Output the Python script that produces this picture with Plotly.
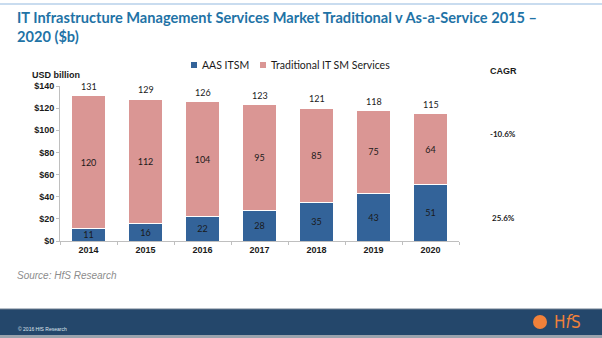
import plotly.graph_objects as go

# Market data, $ billions
years = ["2014", "2015", "2016", "2017", "2018", "2019", "2020"]
aas_itsm = [11, 16, 22, 28, 35, 43, 51]
traditional = [120, 112, 104, 95, 85, 75, 64]
totals = [131, 129, 126, 123, 121, 118, 115]
series_names = ["AAS ITSM", "Traditional IT SM Services"]
cagr = ["-10.6%", "25.6%"]
y_ticks = [0, 20, 40, 60, 80, 100, 120, 140]
y_tick_text = ["$0", "$20", "$40", "$60", "$80", "$100", "$120", "$140"]

BLUE = "#336399"
PINK = "#da9694"
TITLE = "#1f73a6"
NAVY = "#24476b"
ORANGE = "#f0813a"

W, H = 602, 338
PL, PR, PT, PB = 60, 459, 86, 241  # plot area in pixels


def px(x):
    return (x - PL) / (PR - PL)


def py(y):
    return (PB - y) / (PB - PT)


fig = go.Figure()
fig.add_trace(go.Bar(
    x=years, y=aas_itsm, name=series_names[0],
    marker=dict(color=BLUE, line=dict(color="white", width=1)),
    text=aas_itsm, textposition="inside", insidetextanchor="middle",
    textangle=0,
    textfont=dict(size=9, color="#1a1a1a", family="Lato"),
))
fig.add_trace(go.Bar(
    x=years, y=traditional, name=series_names[1],
    marker=dict(color=PINK, line=dict(color="white", width=1)),
    text=traditional, textposition="inside", insidetextanchor="middle",
    textangle=0,
    textfont=dict(size=9, color="#1a1a1a", family="Lato"),
))

annotations = []
# totals above each stack (category index positions)
for i, t in enumerate(totals):
    annotations.append(dict(x=i, y=t, xref="x", yref="y", text=str(t),
                            showarrow=False, yshift=9,
                            font=dict(size=9, color="#1a1a1a", family="Lato")))

# title
annotations.append(dict(x=px(15), y=py(17), xref="paper", yref="paper",
                        xanchor="left", yanchor="middle", showarrow=False,
                        text="<b>IT Infrastructure Management Services Market Traditional v As-a-Service 2015 –</b>",
                        font=dict(size=14.6, color=TITLE, family="Lato")))
annotations.append(dict(x=px(15), y=py(37), xref="paper", yref="paper",
                        xanchor="left", yanchor="middle", showarrow=False,
                        text="<b>2020 ($b)</b>",
                        font=dict(size=14.6, color=TITLE, family="Lato")))

# axis unit label
annotations.append(dict(x=px(30), y=py(75), xref="paper", yref="paper",
                        xanchor="left", yanchor="middle", showarrow=False,
                        text="<b>USD billion</b>",
                        font=dict(size=9, color="#1a1a1a", family="Liberation Sans")))

# CAGR column
annotations.append(dict(x=px(503), y=py(71), xref="paper", yref="paper",
                        xanchor="center", yanchor="middle",
                        showarrow=False, text="<b>CAGR</b>",
                        font=dict(size=9, color="#1a1a1a", family="Liberation Sans")))
for label, yy in zip(cagr, [134, 218]):
    annotations.append(dict(x=px(503), y=py(yy), xref="paper", yref="paper",
                            xanchor="center", yanchor="middle",
                            showarrow=False, text=f"<b>{label}</b>",
                            font=dict(size=8, color="#1a1a1a", family="Lato")))

# legend (drawn manually for small square swatches)
shapes = []
for name, color, lx in zip(series_names, [BLUE, PINK], [191, 260]):
    shapes.append(dict(type="rect", xref="paper", yref="paper",
                       x0=px(lx), x1=px(lx + 6), y0=py(68), y1=py(62),
                       fillcolor=color, line=dict(width=0)))
    annotations.append(dict(x=px(lx + 9), y=py(65), xref="paper", yref="paper",
                            xanchor="left", yanchor="middle", showarrow=False,
                            text=name,
                            font=dict(size=10.5, color="#1a1a1a", family="Lato")))

# source note
annotations.append(dict(x=px(15), y=py(275), xref="paper", yref="paper",
                        xanchor="left", yanchor="middle", showarrow=False,
                        text="<i>Source: HfS Research</i>",
                        font=dict(size=10, color="#8c8c8c", family="Liberation Sans")))

# top rule
shapes.append(dict(type="line", xref="paper", yref="paper",
                   x0=px(0), x1=px(602), y0=py(4), y1=py(4),
                   line=dict(color="#c9dcef", width=2)))

# footer band
shapes.append(dict(type="rect", xref="paper", yref="paper",
                   x0=px(0), x1=px(602), y0=py(335), y1=py(309),
                   fillcolor=NAVY, line=dict(width=0), layer="below"))
shapes.append(dict(type="rect", xref="paper", yref="paper",
                   x0=px(0), x1=px(602), y0=py(338), y1=py(335),
                   fillcolor="#9aa3ad", line=dict(width=0), layer="below"))
shapes.append(dict(type="line", xref="paper", yref="paper",
                   x0=px(0), x1=px(602), y0=py(309), y1=py(309),
                   line=dict(color="#6f7f90", width=1)))
annotations.append(dict(x=px(16), y=py(329), xref="paper", yref="paper",
                        xanchor="left", yanchor="middle", showarrow=False,
                        text="© 2016 HfS Research",
                        font=dict(size=5, color="#dfe6ee", family="Liberation Sans")))
# footer logo
shapes.append(dict(type="circle", xref="paper", yref="paper",
                   x0=px(533), x1=px(547), y0=py(329), y1=py(315),
                   fillcolor=ORANGE, line=dict(width=0)))
annotations.append(dict(x=px(552), y=py(322), xref="paper", yref="paper",
                        xanchor="left", yanchor="middle", showarrow=False,
                        text="H<i>f</i>S",
                        font=dict(size=17, color=ORANGE, family="DejaVu Sans Condensed")))

fig.update_layout(
    width=W, height=H,
    margin=dict(l=PL, r=W - PR, t=PT, b=H - PB),
    barmode="stack", bargap=0.42,
    showlegend=False,
    plot_bgcolor="white", paper_bgcolor="white",
    font=dict(family="Lato", color="#1a1a1a"),
    uniformtext=dict(minsize=8, mode="show"),
    xaxis=dict(
        type="category",
        showline=True, linecolor="#bfbfbf", linewidth=1,
        ticks="outside", ticklen=3, tickcolor="#bfbfbf",
        tickson="boundaries",
        tickfont=dict(size=9, family="Liberation Sans", color="#1a1a1a"),
        tickprefix="<b>", ticksuffix="</b>",
        range=[-0.5, 6.5], showgrid=False,
    ),
    yaxis=dict(
        range=[0, 140], tickvals=y_ticks,
        ticktext=[f"<b>{t}</b>" for t in y_tick_text],
        showline=True, linecolor="#bfbfbf", linewidth=1,
        ticks="outside", ticklen=3, tickcolor="#bfbfbf",
        tickfont=dict(size=9, family="Liberation Sans", color="#1a1a1a"),
        showgrid=False, zeroline=False,
    ),
    annotations=annotations, shapes=shapes,
)

fig.write_html("out.html")
